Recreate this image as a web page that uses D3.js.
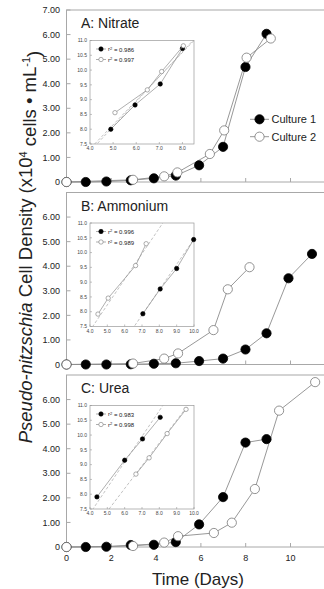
<!DOCTYPE html>
<html>
<head>
<meta charset="utf-8">
<script src="https://cdn.jsdelivr.net/npm/d3@7"></script>
<style>
  body { margin: 0; background: #fff; }
  svg { display: block; font-family: "Liberation Sans", Arial, sans-serif; }
</style>
</head>
<body>
<svg id="chart" width="324" height="589"></svg>
<script>
// panel names
const panelNames = ["A: Nitrate", "B: Ammonium", "C: Urea"];

// main series, days and cell density (x10^4 cells/mL)
const nitrateC1Day = [0, 0.86, 1.78, 2.87, 3.9, 4.88, 5.92, 6.99, 7.99, 8.93];
const nitrateC1Val = [0, 0, 0.02, 0.07, 0.15, 0.26, 0.68, 1.43, 4.68, 6.03];
const nitrateC2Day = [0, 2.97, 4.36, 4.95, 6.4, 7.04, 8.04, 9.12];
const nitrateC2Val = [0, 0.09, 0.23, 0.39, 1.14, 2.1, 5.06, 5.84];

const ammoniumC1Day = [0, 0.86, 1.78, 2.87, 3.9, 4.88, 5.92, 6.99, 7.99, 8.93, 9.91, 10.96];
const ammoniumC1Val = [0, 0, 0, 0.01, 0.03, 0.05, 0.14, 0.24, 0.61, 1.27, 3.51, 4.5];
const ammoniumC2Day = [0, 2.97, 4.36, 4.98, 6.56, 7.2, 8.17];
const ammoniumC2Val = [0, 0.04, 0.24, 0.45, 1.4, 3.06, 3.96];

const ureaC1Day = [0, 0.86, 1.78, 2.87, 3.9, 4.88, 5.92, 6.99, 7.99, 8.93];
const ureaC1Val = [0, 0, 0.01, 0.08, 0.09, 0.2, 0.92, 2.03, 4.25, 4.39];
const ureaC2Day = [0, 2.97, 4.36, 4.98, 6.58, 7.38, 8.41, 9.49, 11.1];
const ureaC2Val = [0, 0.04, 0.18, 0.44, 0.57, 0.99, 2.36, 5.55, 6.71];

// inset series (ln cells vs day)
const insetNitrateC1X = [4.9, 5.95, 7.04, 8.0];
const insetNitrateC1Y = [8.0, 8.82, 9.53, 10.73];
const insetNitrateC2X = [5.08, 6.48, 7.1, 8.04];
const insetNitrateC2Y = [8.56, 9.33, 9.95, 10.82];
const insetAmmoniumC1X = [7.05, 8.05, 9.0, 9.98];
const insetAmmoniumC1Y = [7.93, 8.77, 9.46, 10.44];
const insetAmmoniumC2X = [4.46, 5.05, 6.63, 7.24];
const insetAmmoniumC2Y = [7.92, 8.46, 9.56, 10.3];
const insetUreaC1X = [4.4, 6.0, 7.03, 8.05];
const insetUreaC1Y = [7.91, 9.15, 9.87, 10.6];
const insetUreaC2X = [6.65, 7.41, 8.45, 9.54];
const insetUreaC2Y = [8.68, 9.23, 10.05, 10.87];

// regression fits [culture1, culture2] per panel
const fitSlope = [[0.843, 0.814], [0.857, 0.865], [0.868, 0.77]];
const fitIntercept = [[3.875, 4.081], [1.888, 3.906], [3.88, 3.573]];
const r2 = [[0.986, 0.997], [0.996, 0.989], [0.983, 0.998]];

const insetXMax = [8.5, 10, 10];
const yTicks = [0, 1, 2, 3, 4, 5, 6, 7];
const xTicks = [0, 2, 4, 6, 8, 10];
const insetYTicks = [7.5, 8.0, 8.5, 9.0, 9.5, 10.0, 10.5, 11.0];
const legendNames = ["Culture 1", "Culture 2"];

const zip = (xs, ys) => xs.map((x, i) => ({ x, y: ys[i] }));
const mainSeries = [
  [zip(nitrateC1Day, nitrateC1Val), zip(nitrateC2Day, nitrateC2Val)],
  [zip(ammoniumC1Day, ammoniumC1Val), zip(ammoniumC2Day, ammoniumC2Val)],
  [zip(ureaC1Day, ureaC1Val), zip(ureaC2Day, ureaC2Val)]
];
const insetSeries = [
  [zip(insetNitrateC1X, insetNitrateC1Y), zip(insetNitrateC2X, insetNitrateC2Y)],
  [zip(insetAmmoniumC1X, insetAmmoniumC1Y), zip(insetAmmoniumC2X, insetAmmoniumC2Y)],
  [zip(insetUreaC1X, insetUreaC1Y), zip(insetUreaC2X, insetUreaC2Y)]
];

const svg = d3.select("#chart");
const frameColor = "#a8a8a8";
const lineColor = "#8c8c8c";
const textColor = "#222";

const x = d3.scaleLinear().domain([0, 12]).range([66.5, 335.3]);
const panelTops = [10, 192.5, 375];
const panelH = 172;

const fillOf = i => i === 0 ? "#000" : "#fff";
const strokeOf = i => i === 0 ? "#000" : "#777";

panelTops.forEach((top, p) => {
  const y = d3.scaleLinear().domain([0, 7]).range([top + panelH, top]);
  const g = svg.append("g");

  g.append("rect")
    .attr("x", x(0)).attr("y", top)
    .attr("width", x(12) - x(0)).attr("height", panelH)
    .attr("fill", "none").attr("stroke", frameColor).attr("stroke-width", 1);

  // y ticks
  const yt = p === 0 ? yTicks : yTicks.slice(0, 7);
  g.selectAll(".ytick").data(yt).join("line")
    .attr("x1", x(0)).attr("x2", x(0) + 4)
    .attr("y1", d => y(d)).attr("y2", d => y(d))
    .attr("stroke", frameColor);
  g.selectAll(".ylab").data(yt).join("text")
    .attr("x", 60).attr("y", d => y(d))
    .attr("dy", "0.35em")
    .attr("text-anchor", "end")
    .attr("font-size", 9).attr("fill", textColor)
    .text(d => d === 0 ? "0" : d3.format(".2f")(d));

  // x ticks
  g.selectAll(".xtick").data(xTicks).join("line")
    .attr("x1", d => x(d)).attr("x2", d => x(d))
    .attr("y1", y(0)).attr("y2", y(0) - 4)
    .attr("stroke", frameColor);
  if (p === 2) {
    g.selectAll(".xlab").data(xTicks).join("text")
      .attr("x", d => x(d)).attr("y", y(0) + 14)
      .attr("text-anchor", "middle")
      .attr("font-size", 9).attr("fill", textColor)
      .text(d => d);
  }

  g.append("text")
    .attr("x", 81).attr("y", top + 18)
    .attr("font-size", 14).attr("fill", textColor)
    .text(panelNames[p]);

  // inset
  const ix = d3.scaleLinear().domain([4, insetXMax[p]]).range([90, 194]);
  const iTop = top + 30.5;
  const iy = d3.scaleLinear().domain([7.5, 11]).range([iTop + 103.5, iTop]);
  const ig = svg.append("g");
  const clipId = "clip" + p;
  ig.append("clipPath").attr("id", clipId)
    .append("rect").attr("x", 90).attr("y", iTop).attr("width", 104).attr("height", 103.5);
  ig.append("rect")
    .attr("x", 90).attr("y", iTop).attr("width", 104).attr("height", 103.5)
    .attr("fill", "#fff").attr("stroke", "#999").attr("stroke-width", 0.7);

  ig.selectAll(".iyt").data(insetYTicks).join("line")
    .attr("x1", 90).attr("x2", 92)
    .attr("y1", d => iy(d)).attr("y2", d => iy(d))
    .attr("stroke", "#999").attr("stroke-width", 0.6);
  ig.selectAll(".iyl").data(insetYTicks).join("text")
    .attr("x", 87).attr("y", d => iy(d)).attr("dy", "0.35em")
    .attr("text-anchor", "end").attr("font-size", 5).attr("fill", "#444")
    .text(d => d3.format(".1f")(d));
  const ixTicks = d3.range(4, insetXMax[p] + 0.01, 1);
  ig.selectAll(".ixt").data(ixTicks).join("line")
    .attr("x1", d => ix(d)).attr("x2", d => ix(d))
    .attr("y1", iTop + 103.5).attr("y2", iTop + 101.5)
    .attr("stroke", "#999").attr("stroke-width", 0.6);
  ig.selectAll(".ixl").data(ixTicks).join("text")
    .attr("x", d => ix(d)).attr("y", iTop + 109.5)
    .attr("text-anchor", "middle").attr("font-size", 5).attr("fill", "#444")
    .text(d => d3.format(".1f")(d));

  // regression lines
  [0, 1].forEach(c => {
    const m = fitSlope[p][c], b = fitIntercept[p][c];
    ig.append("line")
      .attr("clip-path", `url(#${clipId})`)
      .attr("x1", ix(3)).attr("y1", iy(m * 3 + b))
      .attr("x2", ix(11)).attr("y2", iy(m * 11 + b))
      .attr("stroke", "#999").attr("stroke-width", 0.6)
      .attr("stroke-dasharray", "3,2");
  });
  const iline = d3.line().x(d => ix(d.x)).y(d => iy(d.y));
  insetSeries[p].forEach((s, c) => {
    ig.append("path").attr("d", iline(s))
      .attr("fill", "none").attr("stroke", lineColor).attr("stroke-width", 0.7);
    ig.selectAll(".ipt" + c).data(s).join("circle")
      .attr("cx", d => ix(d.x)).attr("cy", d => iy(d.y)).attr("r", 2.2)
      .attr("fill", fillOf(c)).attr("stroke", strokeOf(c)).attr("stroke-width", 0.6);
  });
  // inset legend
  [0, 1].forEach(c => {
    const ly = iTop + 8.5 + c * 10.5;
    ig.append("line").attr("x1", 96).attr("x2", 106).attr("y1", ly).attr("y2", ly)
      .attr("stroke", lineColor).attr("stroke-width", 0.7);
    ig.append("circle").attr("cx", 101).attr("cy", ly).attr("r", 2.2)
      .attr("fill", fillOf(c)).attr("stroke", strokeOf(c)).attr("stroke-width", 0.6);
    const t = ig.append("text").attr("x", 108).attr("y", ly).attr("dy", "0.35em")
      .attr("font-size", 6).attr("fill", textColor);
    t.append("tspan").text("r");
    t.append("tspan").attr("dy", "-0.4em").attr("font-size", 4).text("2");
    t.append("tspan").attr("dy", "0.4em").text(" = " + d3.format(".3f")(r2[p][c]));
  });

  // main series
  const line = d3.line().x(d => x(d.x)).y(d => y(d.y));
  mainSeries[p].forEach((s, c) => {
    g.append("path").attr("d", line(s))
      .attr("fill", "none").attr("stroke", lineColor).attr("stroke-width", 0.9);
  });
  mainSeries[p].forEach((s, c) => {
    g.selectAll(".pt" + c).data(s).join("circle")
      .attr("cx", d => x(d.x)).attr("cy", d => y(d.y)).attr("r", 4.6)
      .attr("fill", fillOf(c)).attr("stroke", strokeOf(c)).attr("stroke-width", 0.8);
  });
});

// legend in panel A
legendNames.forEach((name, c) => {
  const ly = 119.3 + c * 17.4;
  svg.append("line").attr("x1", 250).attr("x2", 269).attr("y1", ly).attr("y2", ly)
    .attr("stroke", lineColor).attr("stroke-width", 0.9);
  svg.append("circle").attr("cx", 259.5).attr("cy", ly).attr("r", 4.6)
    .attr("fill", fillOf(c)).attr("stroke", strokeOf(c)).attr("stroke-width", 0.8);
  svg.append("text").attr("x", 271.5).attr("y", ly).attr("dy", "0.35em")
    .attr("font-size", 11).attr("fill", textColor).text(name);
});

// axis titles
svg.append("text")
  .attr("x", 198).attr("y", 585)
  .attr("text-anchor", "middle").attr("font-size", 17).attr("fill", textColor)
  .text("Time (Days)");

const yl = svg.append("text")
  .attr("transform", "translate(32,247) rotate(-90)")
  .attr("text-anchor", "middle").attr("font-size", 18.5).attr("fill", textColor);
yl.append("tspan").attr("font-style", "italic").text("Pseudo-nitzschia");
yl.append("tspan").text(" Cell Density (x10");
yl.append("tspan").attr("dy", "-0.5em").attr("font-size", 11).text("4");
yl.append("tspan").attr("dy", "0.5em").text(" cells \u2022 mL");
yl.append("tspan").attr("dy", "-0.5em").attr("font-size", 11).text("-1");
yl.append("tspan").attr("dy", "0.5em").text(")");
</script>
</body>
</html>
